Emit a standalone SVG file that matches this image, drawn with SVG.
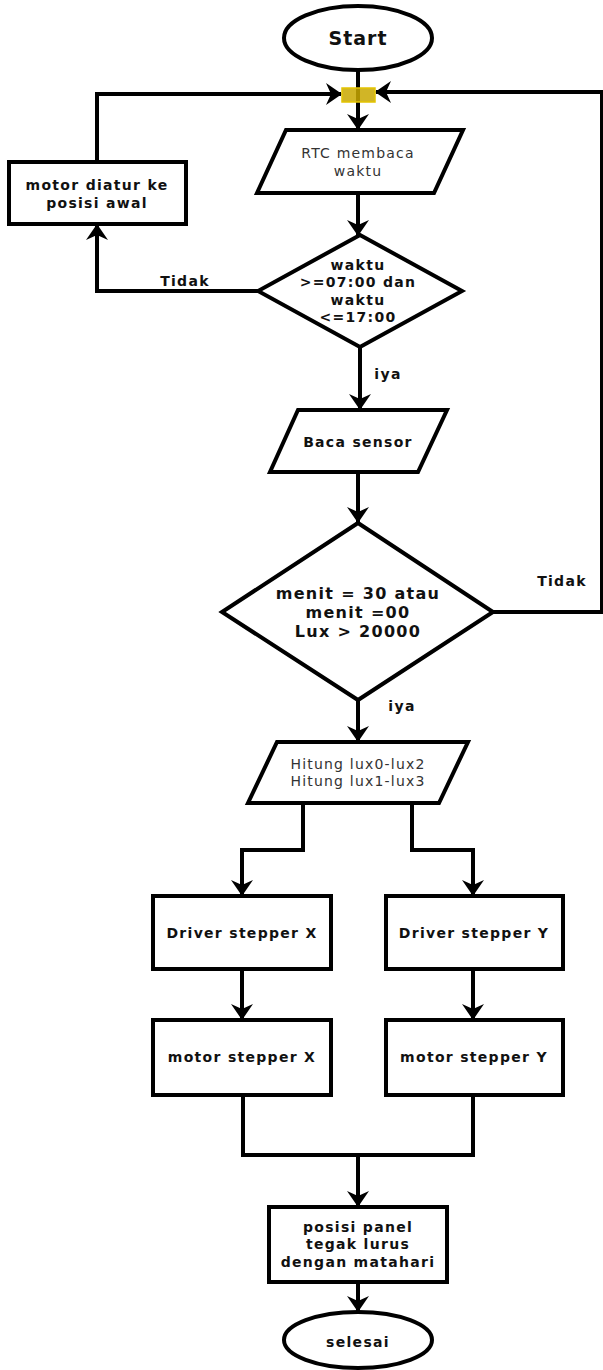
<svg xmlns="http://www.w3.org/2000/svg" width="603" height="1370" viewBox="0 0 603 1370">
<style>
.sh{fill:#fff;stroke:#000;stroke-width:4}
.ln{fill:none;stroke:#000;stroke-width:4}
.t{font-family:"DejaVu Sans",sans-serif;font-weight:bold;font-size:14px;fill:#111;text-anchor:middle;dominant-baseline:central;letter-spacing:1.3px}
.r{font-family:"DejaVu Sans",sans-serif;font-size:14px;fill:#333;text-anchor:middle;dominant-baseline:central;letter-spacing:1.2px}
</style>
<defs>
<marker id="a" viewBox="0 0 16 22" refX="15" refY="11" markerWidth="16" markerHeight="22" markerUnits="userSpaceOnUse" orient="auto">
<path d="M0,0 L16,11 L0,22 L5,11 z" fill="#000"/>
</marker>
</defs>
<g id="connectors">
<path class="ln" d="M358,69 L358,129" marker-end="url(#a)"/>
<path class="ln" d="M97,161 L97,94 L341,94" marker-end="url(#a)"/>
<path class="ln" d="M493,612 L602,612 L602,92 L376,92" marker-end="url(#a)"/>
<path class="ln" d="M358,194 L358,235" marker-end="url(#a)"/>
<path class="ln" d="M258,291 L97,291 L97,225" marker-end="url(#a)"/>
<path class="ln" d="M360,347 L360,409" marker-end="url(#a)"/>
<path class="ln" d="M358,473 L358,522" marker-end="url(#a)"/>
<path class="ln" d="M358,700 L358,741" marker-end="url(#a)"/>
<path class="ln" d="M303,803 L303,850 L242,850 L242,895" marker-end="url(#a)"/>
<path class="ln" d="M412,803 L412,850 L473,850 L473,895" marker-end="url(#a)"/>
<path class="ln" d="M242,969 L242,1019" marker-end="url(#a)"/>
<path class="ln" d="M473,969 L473,1019" marker-end="url(#a)"/>
<path class="ln" d="M243,1095 L243,1155 L473,1155 L473,1095"/>
<path class="ln" d="M358,1155 L358,1206" marker-end="url(#a)"/>
<path class="ln" d="M358,1282 L358,1311" marker-end="url(#a)"/>
<text class="t" x="185" y="281">Tidak</text>
<text class="t" x="388" y="374">iya</text>
<text class="t" x="562" y="581">Tidak</text>
<text class="t" x="402" y="706">iya</text>
</g>
<g id="junction">
<rect x="342" y="88" width="33" height="14" fill="#c9a800" fill-opacity="0.85" stroke="#e3c400" stroke-width="1.5"/>
</g>
<g id="start">
<ellipse class="sh" cx="358" cy="38" rx="74" ry="32"/>
<text class="t" x="358" y="38" style="font-size:19px;letter-spacing:1px">Start</text>
</g>
<g id="rtc">
<polygon class="sh" points="286,130 463,130 434,193 257,193"/>
<text class="r" x="358" y="153">RTC membaca</text>
<text class="r" x="358" y="171">waktu</text>
</g>
<g id="reset">
<rect class="sh" x="9" y="162" width="177" height="62"/>
<text class="t" x="97" y="185">motor diatur ke</text>
<text class="t" x="97" y="203">posisi awal</text>
</g>
<g id="cek-waktu">
<polygon class="sh" points="360,235 462,291 360,347 258,291"/>
<text class="t" x="358" y="265">waktu</text>
<text class="t" x="358" y="282">&gt;=07:00 dan</text>
<text class="t" x="358" y="300">waktu</text>
<text class="t" x="358" y="317">&lt;=17:00</text>
</g>
<g id="baca-sensor">
<polygon class="sh" points="298,410 447,410 418,472 270,472"/>
<text class="t" x="358" y="442">Baca sensor</text>
</g>
<g id="cek-menit">
<polygon class="sh" points="358,523 493,612 358,700 222,612"/>
<text class="t" x="358" y="593" style="font-size:16px">menit = 30 atau</text>
<text class="t" x="358" y="612" style="font-size:16px">menit =00</text>
<text class="t" x="358" y="631" style="font-size:16px">Lux &gt; 20000</text>
</g>
<g id="hitung">
<polygon class="sh" points="277,742 468,742 439,803 248,803"/>
<text class="r" x="358" y="764">Hitung lux0-lux2</text>
<text class="r" x="358" y="781">Hitung lux1-lux3</text>
</g>
<g id="driver-x">
<rect class="sh" x="153" y="896" width="178" height="73"/>
<text class="t" x="242" y="933">Driver stepper X</text>
</g>
<g id="driver-y">
<rect class="sh" x="386" y="896" width="177" height="73"/>
<text class="t" x="474" y="933">Driver stepper Y</text>
</g>
<g id="motor-x">
<rect class="sh" x="153" y="1020" width="178" height="75"/>
<text class="t" x="242" y="1057">motor stepper X</text>
</g>
<g id="motor-y">
<rect class="sh" x="386" y="1020" width="177" height="75"/>
<text class="t" x="474" y="1057">motor stepper Y</text>
</g>
<g id="posisi">
<rect class="sh" x="269" y="1207" width="178" height="75"/>
<text class="t" x="358" y="1227">posisi panel</text>
<text class="t" x="358" y="1244">tegak lurus</text>
<text class="t" x="358" y="1262">dengan matahari</text>
</g>
<g id="selesai">
<ellipse class="sh" cx="358" cy="1340" rx="74" ry="28"/>
<text class="t" x="358" y="1342">selesai</text>
</g>
</svg>
